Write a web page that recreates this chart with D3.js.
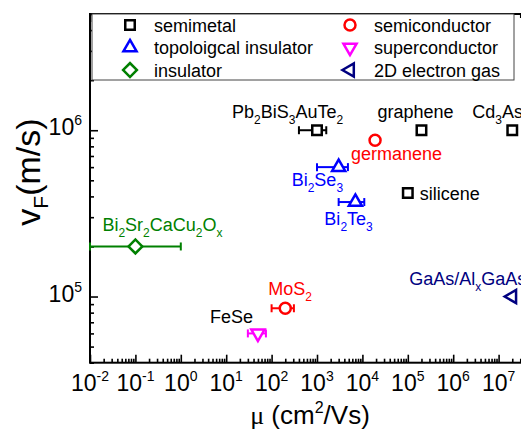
<!DOCTYPE html>
<html>
<head>
<meta charset="utf-8">
<script src="https://cdn.jsdelivr.net/npm/d3@7"></script>
<style>
  html, body { margin: 0; padding: 0; background: #fff; }
  svg { display: block; }
  text { font-family: "Liberation Sans", Arial, sans-serif; }
</style>
</head>
<body>
<svg id="chart"></svg>
<script>
// categories (legend order)
const categories = ["semimetal", "topoloigcal insulator", "insulator", "semiconductor", "superconductor", "2D electron gas"];
const categoryColors = ["#000000", "#0000ff", "#008000", "#ff0000", "#ff00ff", "#000080"];

// materials and their values
const materials = ["Pb_2BiS_3AuTe_2", "graphene", "Cd_3As_2", "silicene", "germanene", "MoS_2",
                   "Bi_2Se_3", "Bi_2Te_3", "Bi_2Sr_2CaCu_2O_x", "FeSe", "GaAs/Al_xGaAs"];
const materialCategory = [0, 0, 0, 0, 3, 3, 1, 1, 2, 4, 5];
const mobility = [1000, 2e5, 2e7, 1e5, 1.9e4, 200, 3000, 7000, 0.1, 50, 2e7];        // cm^2/Vs
const fermiVelocity = [1e6, 1e6, 1e6, 4.2e5, 8.7e5, 8.5e4, 6e5, 3.7e5, 2e5, 6e4, 1e5]; // m/s
const mobilityLow = [400, null, null, null, null, 100, 1000, 3000, 0.01, 30, null];
const mobilityHigh = [1600, null, null, null, null, 310, 4800, 11000, 1, 75, null];

// tick values
const xDecades = [-2, -1, 0, 1, 2, 3, 4, 5, 6, 7, 8];
const xLabelDecades = [-2, -1, 0, 1, 2, 3, 4, 5, 6, 7];
const yDecades = [5, 6];

// label placement (layout only)
const labelOffset = {
  "Pb_2BiS_3AuTe_2": [-85, -12], "graphene": [-44, -12], "Cd_3As_2": [-40, -12],
  "silicene": [12, 7], "germanene": [-24, 20], "MoS_2": [-17, -13],
  "Bi_2Se_3": [-47, 19], "Bi_2Te_3": [-31, 23], "Bi_2Sr_2CaCu_2O_x": [-33, -15],
  "FeSe": [-48, -10], "GaAs/Al_xGaAs": [-103, -12]
};
const labelColorOverride = { "FeSe": "#000000" };

const W = 521, H = 429;
const svg = d3.select("#chart").attr("width", W).attr("height", H);

const x = d3.scaleLog().domain([1e-2, 1e8]).range([90, 544]);
const y = d3.scaleLog().domain([4e4, 5e6]).range([362.7, 14]);

// minor ticks
function minors(lo, hi) {
  const out = [];
  for (let e = lo; e < hi; e++) for (let m = 2; m <= 9; m++) out.push(m * Math.pow(10, e));
  return out;
}
const xMinor = minors(-2, 8);
const yMinor = minors(4, 7).filter(v => v >= 4e4 && v <= 5e6);

const axisG = svg.append("g");
function styleAxis(g) {
  g.select(".domain").remove();
  g.selectAll("line").attr("stroke", "#000").attr("stroke-width", 1.6);
}
axisG.append("g").attr("transform", `translate(0,${y.range()[0]})`)
  .call(d3.axisBottom(x).tickValues(xDecades.map(d => Math.pow(10, d))).tickSize(-8).tickFormat(""))
  .call(styleAxis);
axisG.append("g").attr("transform", `translate(0,${y.range()[0]})`)
  .call(d3.axisBottom(x).tickValues(xMinor).tickSize(-4).tickFormat(""))
  .call(styleAxis);
axisG.append("g").attr("transform", `translate(0,${y.range()[1]})`)
  .call(d3.axisTop(x).tickValues(xDecades.map(d => Math.pow(10, d))).tickSize(-8).tickFormat(""))
  .call(styleAxis);
axisG.append("g").attr("transform", `translate(0,${y.range()[1]})`)
  .call(d3.axisTop(x).tickValues(xMinor).tickSize(-4).tickFormat(""))
  .call(styleAxis);
axisG.append("g").attr("transform", `translate(${x.range()[0]},0)`)
  .call(d3.axisLeft(y).tickValues(yDecades.map(d => Math.pow(10, d))).tickSize(-8).tickFormat(""))
  .call(styleAxis);
axisG.append("g").attr("transform", `translate(${x.range()[0]},0)`)
  .call(d3.axisLeft(y).tickValues(yMinor).tickSize(-4).tickFormat(""))
  .call(styleAxis);

// frame
svg.append("rect")
  .attr("x", x.range()[0]).attr("y", y.range()[1])
  .attr("width", x.range()[1] - x.range()[0]).attr("height", y.range()[0] - y.range()[1])
  .attr("fill", "none").attr("stroke", "#000").attr("stroke-width", 2);

// tick labels
function powerLabel(g, exp) {
  g.append("tspan").text("10");
  g.append("tspan").attr("font-size", 14).attr("dy", -10).text(exp < 0 ? "-" + (-exp) : exp);
}
svg.append("g").selectAll("text").data(xLabelDecades).join("text")
  .attr("x", d => x(Math.pow(10, d)))
  .attr("y", 391)
  .attr("text-anchor", "middle")
  .attr("font-size", 23)
  .each(function (d) { powerLabel(d3.select(this), d); });
svg.append("g").selectAll("text").data(yDecades).join("text")
  .attr("x", 82)
  .attr("y", d => y(Math.pow(10, d)) + 5)
  .attr("text-anchor", "end")
  .attr("font-size", 23)
  .each(function (d) { powerLabel(d3.select(this), d); });

// axis titles
const xt = svg.append("text").attr("x", 310).attr("y", 424).attr("text-anchor", "middle").attr("font-size", 26);
xt.append("tspan").attr("font-family", "Liberation Serif, serif").text("\u03bc");
xt.append("tspan").text(" (cm");
xt.append("tspan").attr("font-size", 16).attr("dy", -11).text("2");
xt.append("tspan").attr("dy", 11).text("/Vs)");

const yt = svg.append("text").attr("transform", "translate(40,172) rotate(-90)")
  .attr("text-anchor", "middle").attr("font-size", 34);
yt.append("tspan").text("v");
yt.append("tspan").attr("font-size", 21).attr("dy", 8).text("F");
yt.append("tspan").attr("dy", -8).text("(m/s)");

// symbols
const symbolDefs = [
  { type: d3.symbolSquare, size: 90, rotate: 0 },
  { type: d3.symbolTriangle, size: 75, rotate: 0 },
  { type: d3.symbolSquare, size: 95, rotate: 45 },
  { type: d3.symbolCircle, size: 95, rotate: 0 },
  { type: d3.symbolTriangle, size: 75, rotate: 180 },
  { type: d3.symbolTriangle, size: 75, rotate: -90 }
];
function drawSymbol(g, cat, cx, cy) {
  const s = symbolDefs[cat];
  g.append("path")
    .attr("d", d3.symbol().type(s.type).size(s.size)())
    .attr("transform", `translate(${cx},${cy}) rotate(${s.rotate})`)
    .attr("fill", "#fff")
    .attr("stroke", categoryColors[cat])
    .attr("stroke-width", 2.5);
}

// labels with subscripts
function richText(sel, str) {
  const parts = str.split(/(_\w)/).filter(p => p.length);
  let sub = false;
  parts.forEach(p => {
    if (p[0] === "_") {
      sel.append("tspan").attr("font-size", 12).attr("dy", 6).text(p.slice(1));
      sub = true;
    } else {
      sel.append("tspan").attr("dy", sub ? -6 : 0).text(p);
      sub = false;
    }
  });
}

const plot = svg.append("g");
const idx = d3.range(materials.length);

// error bars
const eb = plot.append("g").attr("stroke-width", 2);
idx.filter(i => mobilityLow[i] != null).forEach(i => {
  const c = categoryColors[materialCategory[i]];
  const yy = y(fermiVelocity[i]);
  const x0 = x(mobilityLow[i]), x1 = x(mobilityHigh[i]);
  eb.append("line").attr("x1", x0).attr("x2", x1).attr("y1", yy).attr("y2", yy).attr("stroke", c);
  [x0, x1].forEach(xx => eb.append("line").attr("x1", xx).attr("x2", xx)
    .attr("y1", yy - 4).attr("y2", yy + 4).attr("stroke", c));
});

// points
idx.forEach(i => drawSymbol(plot, materialCategory[i], x(mobility[i]), y(fermiVelocity[i])));

// point labels
idx.forEach(i => {
  const name = materials[i];
  const off = labelOffset[name];
  const t = plot.append("text")
    .attr("x", x(mobility[i]) + off[0])
    .attr("y", y(fermiVelocity[i]) + off[1])
    .attr("font-size", 18)
    .attr("fill", labelColorOverride[name] || categoryColors[materialCategory[i]]);
  richText(t, name);
});

// legend
const legend = svg.append("g");
legend.append("rect").attr("x", 92).attr("y", 14).attr("width", 422).attr("height", 66)
  .attr("fill", "#fff").attr("stroke", "#444").attr("stroke-width", 1);
categories.forEach((name, i) => {
  const col = Math.floor(i / 3), row = i % 3;
  const sx = col === 0 ? 130 : 350;
  const sy = 25 + row * 22.5;
  drawSymbol(legend, i, sx, sy);
  legend.append("text").attr("x", sx + 24).attr("y", sy + 6.5)
    .attr("font-size", 18).attr("fill", "#000").text(name);
});
</script>
</body>
</html>
